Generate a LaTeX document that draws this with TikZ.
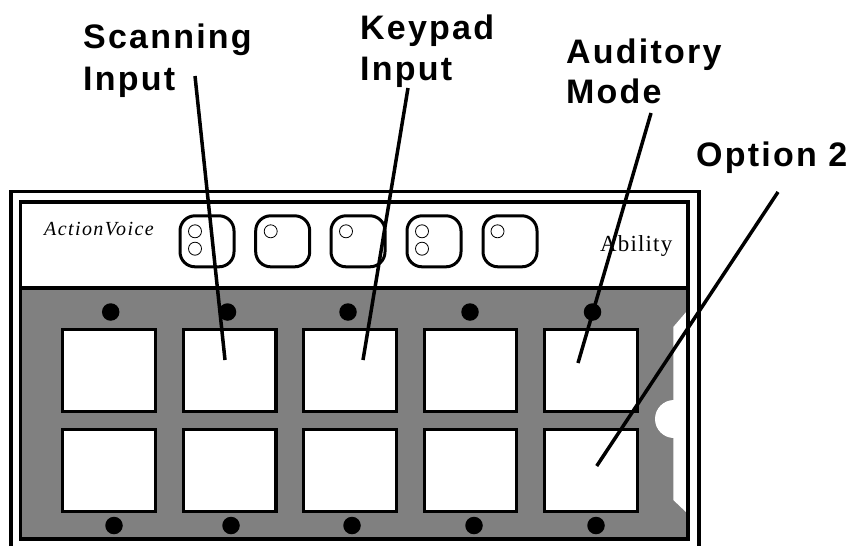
\documentclass[tikz,border=0pt]{standalone}
\usepackage{fontspec}
\setmainfont{Liberation Serif}
\newfontfamily\lblfont[LetterSpace=6.5]{Liberation Sans Bold}
\newfontfamily\brandfont[LetterSpace=7]{Liberation Serif Italic}
\newfontfamily\abilfont[LetterSpace=5]{Liberation Serif}
\definecolor{panelgray}{HTML}{808080}
\tikzset{
  x=1pt,y=-1pt,
  frameline/.style={draw=black,line width=3.3pt},
  keysq/.style={draw=black,fill=white,line width=3.3pt,minimum width=92.6pt,minimum height=82.4pt,inner sep=0pt,outer sep=0pt},
  btn/.style={draw=black,fill=white,line width=3pt,rounded corners=15pt,minimum width=54pt,minimum height=51pt,inner sep=0pt},
  led/.style={draw=black,fill=white,line width=.8pt,circle,minimum size=13pt,inner sep=0pt},
  peg/.style={fill=black,circle,minimum size=17.5pt,inner sep=0pt},
  lbl/.style={anchor=base west,inner sep=0pt,font=\lblfont\fontsize{34}{34}\selectfont},
  pointer/.style={draw=black,line width=3.5pt},
}
\begin{document}
\begin{tikzpicture}
\useasboundingbox (0,0) rectangle (858,546);
\fill[white] (0,0) rectangle (858,546);
% outer frame (open at the bottom)
\draw[frameline] (11,546) -- (11,191.5) -- (699,191.5) -- (699,546);
% panel
\fill[panelgray] (20.5,288) rectangle (688,539);
% notch
\fill[white] (687,311) -- (673.3,327) -- (673.3,500) -- (687,513) -- cycle;
\fill[white] (674,419) circle (19);
% inner frame
\draw[frameline] (20.5,288) -- (688,288);
\draw[frameline] (20.5,202) rectangle (688,539);
% keys
\foreach \c/\x in {1/109,2/229.8,3/350,4/470.5,5/591}{
  \node[keysq] (ka\c) at (\x,370.5) {};
  \node[keysq] (kb\c) at (\x,470.5) {};
}
% pegs
\foreach \c/\x in {1/110.7,2/227.5,3/348,4/470,5/592.5}{
  \node[peg] (pt\c) at (\x,312) {};
}
\foreach \c/\x in {1/114,2/231,3/352,4/474,5/596}{
  \node[peg] (pb\c) at (\x,525.5) {};
}
% buttons
\foreach \c/\x in {1/207,2/282.7,3/358,4/434,5/510}{
  \node[btn] (b\c) at (\x,241.3) {};
}
\node[led] (l1a) at (195,231.3) {};
\node[led] (l1b) at (195,248.7) {};
\node[led] (l2) at (270.7,231.3) {};
\node[led] (l3) at (346,231.3) {};
\node[led] (l4a) at (422,231.3) {};
\node[led] (l4b) at (422,248.7) {};
\node[led] (l5) at (497.5,231.3) {};
% brand text
\node[anchor=base west,inner sep=0pt,font=\brandfont\fontsize{20}{20}\selectfont] (brand) at (44,235) {ActionVoice};
\node[anchor=base west,inner sep=0pt,font=\abilfont\fontsize{23}{23}\selectfont] (abil) at (600,251.5) {Ability};
% labels
\node[lbl] (s1) at (83,48) {Scanning};
\node[lbl] (s2) at (83,90) {Input};
\node[lbl] (k1) at (360,39) {Keypad};
\node[lbl] (k2) at (360,80) {Input};
\node[lbl] (a1) at (566,63) {Auditory};
\node[lbl] (a2) at (566,103) {Mode};
\node[lbl] (o1) at (696,166) {Option 2};
% pointers
\coordinate (sf) at (195,76);
\coordinate (st) at (225,360);
\coordinate (kf) at (408,88);
\coordinate (kt) at (363,360);
\coordinate (af) at (651,113);
\coordinate (at) at (578,363);
\coordinate (of) at (778,192);
\coordinate (ot) at (596.7,466);
\draw[pointer] (sf) -- (st);
\draw[pointer] (kf) -- (kt);
\draw[pointer] (af) -- (at);
\draw[pointer] (of) -- (ot);
\end{tikzpicture}
\end{document}
